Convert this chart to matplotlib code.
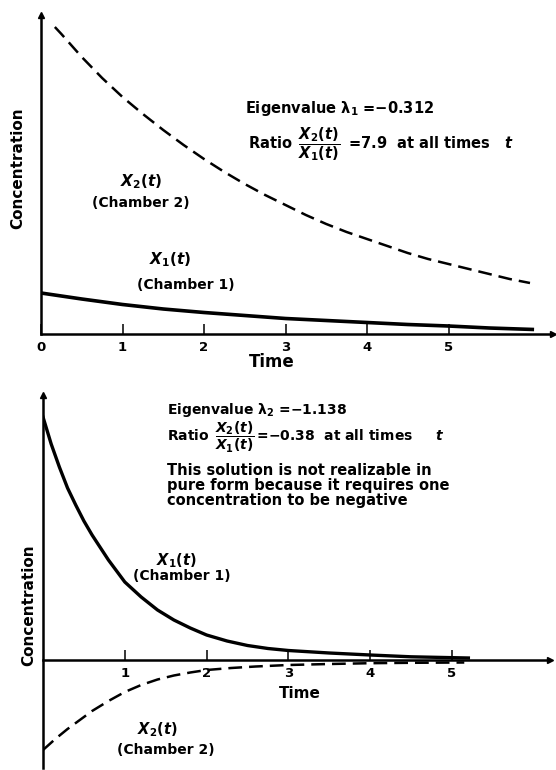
import matplotlib
matplotlib.use("Agg")
import matplotlib.pyplot as plt

# ---------------- data (arbitrary concentration units) ----------------
top_t_x2 = [0.17, 0.25, 0.5, 0.75, 1.0, 1.25, 1.5, 1.75, 2.0, 2.25, 2.5, 2.75, 3.0,
            3.25, 3.5, 3.75, 4.0, 4.25, 4.5, 4.75, 5.0, 5.25, 5.5, 5.75, 6.0]
top_x2 = [30.7, 30.0, 27.7, 25.6, 23.7, 22.0, 20.4, 18.9, 17.5, 16.2, 15.0, 13.9, 12.9,
          11.9, 11.0, 10.2, 9.5, 8.8, 8.1, 7.5, 7.0, 6.5, 6.0, 5.5, 5.1]
top_t_x1 = [0.0, 0.5, 1.0, 1.5, 2.0, 2.5, 3.0, 3.5, 4.0, 4.5, 5.0, 5.5, 6.05]
top_x1 = [4.1, 3.5, 2.95, 2.5, 2.15, 1.85, 1.55, 1.35, 1.15, 0.95, 0.8, 0.6, 0.45]

bot_t_x1 = [0.0, 0.1, 0.2, 0.3, 0.4, 0.5, 0.6, 0.8, 1.0, 1.2, 1.4, 1.6, 1.8, 2.0,
            2.25, 2.5, 2.75, 3.0, 3.5, 4.0, 4.5, 5.2]
bot_x1 = [24.3, 21.6, 19.3, 17.2, 15.5, 13.9, 12.5, 10.0, 7.8, 6.3, 5.0, 4.0, 3.2, 2.5,
          1.9, 1.45, 1.15, 0.95, 0.7, 0.5, 0.32, 0.2]
bot_t_x2 = [0.0, 0.15, 0.3, 0.45, 0.6, 0.8, 1.0, 1.2, 1.4, 1.6, 1.8, 2.0, 2.3, 2.6,
            3.0, 3.5, 4.0, 4.5, 5.15]
bot_x2 = [-9.0, -7.9, -6.9, -6.0, -5.1, -4.1, -3.2, -2.5, -1.95, -1.55, -1.25, -1.0, -0.8, -0.65,
          -0.5, -0.4, -0.32, -0.28, -0.25]

top_ticks = [0, 1, 2, 3, 4, 5]
top_tick_labels = ["0", "1", "2", "3", "4", "5"]
bot_ticks = [1, 2, 3, 4, 5]
bot_tick_labels = ["1", "2", "3", "4", "5"]

FONT = "DejaVu Sans"
plt.rcParams["mathtext.fontset"] = "custom"
plt.rcParams["mathtext.rm"] = "DejaVu Sans:bold"
plt.rcParams["mathtext.it"] = "DejaVu Sans:bold:italic"
plt.rcParams["mathtext.bf"] = "DejaVu Sans:bold"
plt.rcParams["mathtext.sf"] = "DejaVu Sans:bold"

W, H = 556, 770
fig = plt.figure(figsize=(W / 100, H / 100), dpi=100)


def fx(x):
    return x / W


def fy(y):
    return 1 - y / H


def style_axes(ax, ticks, labels):
    for s in ["top", "right"]:
        ax.spines[s].set_visible(False)
    ax.spines["bottom"].set_position(("data", 0))
    for s in ["left", "bottom"]:
        ax.spines[s].set_linewidth(1.8)
    ax.set_yticks([])
    ax.set_xticks(ticks)
    ax.set_xticklabels(labels, fontfamily=FONT, fontweight="bold", fontsize=9.5)
    ax.tick_params(axis="x", direction="in", length=7, width=1.1, pad=5)
    ax.patch.set_alpha(0)
    ax.plot(1, 0, ">k", markersize=5, transform=ax.get_yaxis_transform(), clip_on=False)
    ax.plot(0, 1, "^k", markersize=5, transform=ax.get_xaxis_transform(), clip_on=False)


DASH = (0, (5.5, 2.8))

# ---------------- top panel ----------------
ax1 = fig.add_axes([fx(41), fy(334), fx(553) - fx(41), fy(15) - fy(334)])
ax1.set_xlim(0, (553 - 41) / 81.5)
ax1.set_ylim(0, 31.9)
ax1.plot(top_t_x2, top_x2, color="black", lw=1.8, linestyle=DASH)
ax1.plot(top_t_x1, top_x1, color="black", lw=2.6, solid_capstyle="butt")
style_axes(ax1, top_ticks, top_tick_labels)

# ---------------- bottom panel ----------------
ax2 = fig.add_axes([fx(43), fy(768), fx(550) - fx(43), fy(395) - fy(768)])
ax2.set_xlim(0, (550 - 43) / 81.8)
ax2.set_ylim(-10.8, 26.5)
ax2.plot(bot_t_x1, bot_x1, color="black", lw=2.4)
ax2.plot(bot_t_x2, bot_x2, color="black", lw=1.8, linestyle=DASH)
style_axes(ax2, bot_ticks, bot_tick_labels)

# ---------------- texts ----------------
tk = dict(fontfamily=FONT, fontweight="bold", color="black")

fig.text(fx(18), fy(168), "Concentration", rotation=90, ha="center", va="center", fontsize=11, **tk)
fig.text(fx(29), fy(605), "Concentration", rotation=90, ha="center", va="center", fontsize=11, **tk)
fig.text(fx(272), fy(362), "Time", ha="center", va="center", fontsize=12, **tk)
fig.text(fx(300), fy(693), "Time", ha="center", va="center", fontsize=11, **tk)

fig.text(fx(245), fy(108), "Eigenvalue λ$_1$ =$-$0.312", ha="left", va="center", fontsize=10.5, **tk)
fig.text(fx(248), fy(144), r"Ratio $\,\dfrac{X_2(t)}{X_1(t)}\;\;$=7.9  at all times   $t$",
         ha="left", va="center", fontsize=10.5, **tk)

fig.text(fx(141), fy(182), r"$X_2(t)$", ha="center", va="center", fontsize=11, **tk)
fig.text(fx(141), fy(203), "(Chamber 2)", ha="center", va="center", fontsize=10, **tk)
fig.text(fx(170), fy(260), r"$X_1(t)$", ha="center", va="center", fontsize=11, **tk)
fig.text(fx(186), fy(285), "(Chamber 1)", ha="center", va="center", fontsize=10, **tk)

fig.text(fx(167), fy(410), "Eigenvalue λ$_2$ =$-$1.138", ha="left", va="center", fontsize=10, **tk)
fig.text(fx(167), fy(437), r"Ratio $\,\dfrac{X_2(t)}{X_1(t)}\,$=$-$0.38  at all times     $t$",
         ha="left", va="center", fontsize=10, **tk)
fig.text(fx(167), fy(485), "This solution is not realizable in\npure form because it requires one\nconcentration to be negative",
         ha="left", va="center", fontsize=10.5, linespacing=1.0, **tk)

fig.text(fx(176), fy(561), r"$X_1(t)$", ha="center", va="center", fontsize=10.5, **tk)
fig.text(fx(182), fy(576), "(Chamber 1)", ha="center", va="center", fontsize=10, **tk)
fig.text(fx(157), fy(730), r"$X_2(t)$", ha="center", va="center", fontsize=10.5, **tk)
fig.text(fx(166), fy(750), "(Chamber 2)", ha="center", va="center", fontsize=10, **tk)

fig.savefig("out.png", dpi=100)
